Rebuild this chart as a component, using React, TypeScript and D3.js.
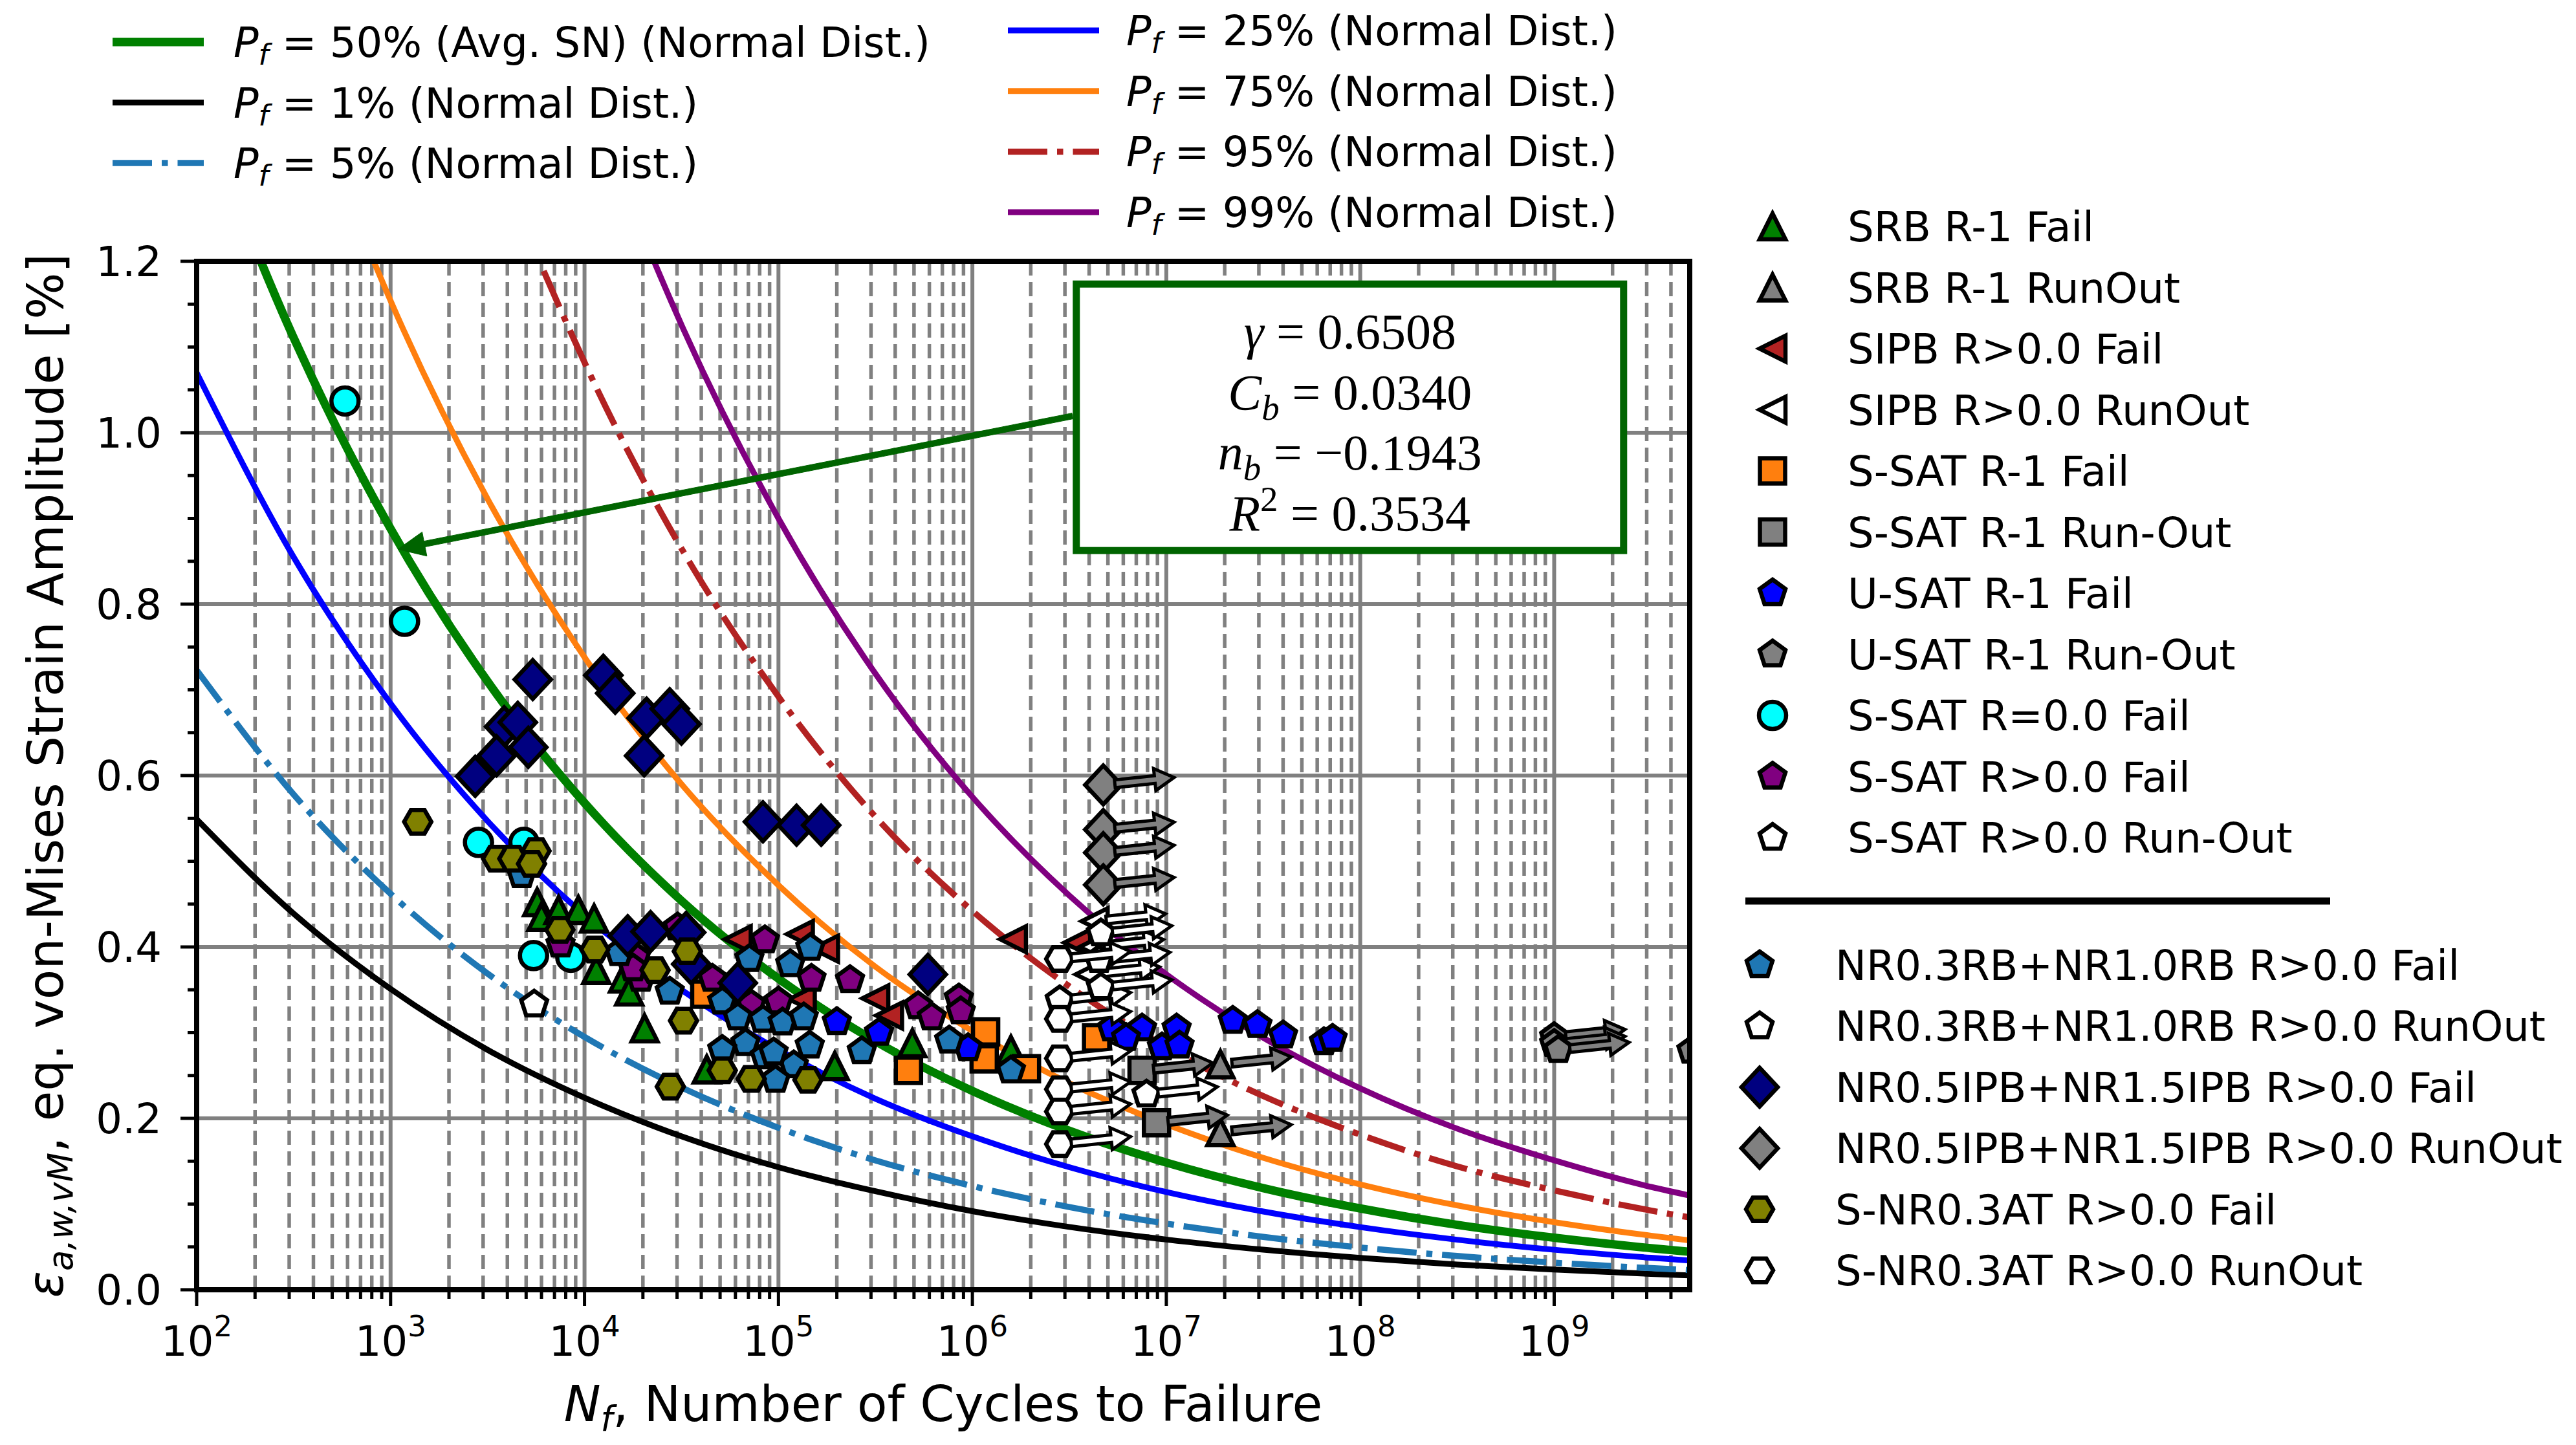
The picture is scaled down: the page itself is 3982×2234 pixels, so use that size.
import * as d3 from 'd3';
import React from 'react';

type Pt = [number, number, boolean?];
type Shape = 'triUp' | 'triLeft' | 'square' | 'pentagon' | 'hexagon' | 'circle' | 'diamond';

const curveN = [1e2, 3.16e2, 1e3, 3.16e3, 1e4, 3.16e4, 1e5, 3.16e5, 1e6, 3.16e6, 1e7, 3.16e7, 1e8, 3.16e8, 1e9, 3.16e9, 5e9];
const pf50 = [1.39, 1.111, 0.888, 0.71, 0.568, 0.454, 0.363, 0.29, 0.232, 0.1856, 0.1484, 0.1186, 0.0949, 0.0758, 0.0607, 0.0485, 0.0443];
const pf1 = [0.549, 0.439, 0.351, 0.28, 0.224, 0.179, 0.143, 0.115, 0.0917, 0.0733, 0.0586, 0.0468, 0.0372, 0.0295, 0.0235, 0.0185, 0.0168];
const pf5 = [0.723, 0.578, 0.462, 0.369, 0.295, 0.236, 0.189, 0.151, 0.121, 0.0965, 0.0772, 0.0617, 0.0493, 0.0394, 0.0316, 0.0252, 0.023];
const pf25 = [1.07, 0.855, 0.684, 0.547, 0.437, 0.35, 0.28, 0.223, 0.179, 0.143, 0.114, 0.0913, 0.0731, 0.0584, 0.0467, 0.0373, 0.0341];
const pf75 = [1.807, 1.444, 1.154, 0.923, 0.738, 0.59, 0.472, 0.377, 0.302, 0.241, 0.193, 0.154, 0.123, 0.0985, 0.0789, 0.0631, 0.0576];
const pf95 = [2.648, 2.116, 1.692, 1.353, 1.082, 0.865, 0.692, 0.552, 0.442, 0.354, 0.283, 0.226, 0.181, 0.144, 0.116, 0.0924, 0.0844];
const pf99 = [3.447, 2.755, 2.202, 1.761, 1.409, 1.126, 0.9, 0.719, 0.575, 0.46, 0.368, 0.294, 0.235, 0.188, 0.151, 0.12, 0.11];

// test data [N, strain %, arrow?]
const srbFail: Pt[] = [[5.7e3, 0.452], [6.0e3, 0.435], [7.35e3, 0.443], [9.3e3, 0.443], [1.12e4, 0.433], [1.15e4, 0.373], [1.58e4, 0.363], [1.7e4, 0.348], [2.04e4, 0.305], [4.27e4, 0.257], [1.95e5, 0.261], [4.9e5, 0.2875], [1.58e6, 0.28]];
const srbRunOut: Pt[] = [[1.9e7, 0.263], [1.9e7, 0.184]];
const sipbFail: Pt[] = [[6.17e4, 0.409], [1.29e5, 0.415], [1.74e5, 0.398], [1.32e5, 0.339], [3.16e5, 0.34], [3.72e5, 0.32], [1.62e6, 0.409], [3.47e6, 0.405]];
const sipbRunOut: Pt[] = [[4.27e6, 0.43], [4.17e6, 0.4], [3.98e6, 0.368]];
const ssatR1Fail: Pt[] = [[4.17e4, 0.345], [4.68e5, 0.256], [1.17e6, 0.301], [1.15e6, 0.2695], [1.9e6, 0.258], [4.37e6, 0.294]];
const ssatR1RunOut: Pt[] = [[7.5e6, 0.256], [8.9e6, 0.195]];
const usatFail: Pt[] = [[2.0e5, 0.3125], [3.3e5, 0.3], [9.5e5, 0.282], [5.25e6, 0.305], [7.5e6, 0.305], [1.13e7, 0.305], [6.2e6, 0.294], [9.5e6, 0.283], [1.17e7, 0.285], [2.2e7, 0.314], [2.95e7, 0.309], [4.0e7, 0.297], [6.5e7, 0.289], [7.2e7, 0.293]];
const usatRunOut: Pt[] = [[1.0e9, 0.295], [1.0e9, 0.287], [1.05e9, 0.28], [5.1e9, 0.279]];
const ssatR0Fail: Pt[] = [[5.82e2, 1.037], [1.18e3, 0.78], [2.84e3, 0.522], [4.87e3, 0.522], [5.46e3, 0.39], [8.5e3, 0.388]];
const ssatRpFail: Pt[] = [[7.52e3, 0.403], [1.84e4, 0.388], [1.95e4, 0.363], [1.78e4, 0.375], [4.57e4, 0.363], [8.51e4, 0.408], [1.48e5, 0.363], [1.0e5, 0.3365], [7.24e4, 0.333], [3.02e4, 0.423], [2.34e5, 0.3615], [8.51e5, 0.34], [5.25e5, 0.331], [6.17e5, 0.318], [8.71e5, 0.325]];
const ssatRpRunOut: Pt[] = [[5.5e3, 0.333, false], [2.82e6, 0.338], [7.9e6, 0.228]];
const nr03Fail: Pt[] = [[4.74e3, 0.484], [1.51e4, 0.393], [2.75e4, 0.348], [7.08e4, 0.386], [1.15e5, 0.38], [1.46e5, 0.399], [5.13e4, 0.3365], [6.17e4, 0.318], [8.32e4, 0.315], [1.05e5, 0.312], [1.35e5, 0.318], [6.76e4, 0.288], [8.51e4, 0.2725], [1.45e5, 0.285], [1.2e5, 0.262], [9.66e4, 0.245], [2.69e5, 0.2785], [7.59e5, 0.291], [1.58e6, 0.256], [5.13e4, 0.28], [9.44e4, 0.277]];
const nr03RunOut: Pt[] = [[4.6e6, 0.416], [4.6e6, 0.353], [4.5e6, 0.385]];
const nr05Fail: Pt[] = [[5.41e3, 0.712], [1.25e4, 0.717], [1.44e4, 0.696], [3.85e3, 0.657], [4.53e3, 0.662], [3.52e3, 0.623], [5.13e3, 0.633], [2.73e3, 0.599], [2.09e4, 0.667], [2.75e4, 0.678], [3.16e4, 0.66], [2.03e4, 0.623], [8.32e4, 0.546], [1.24e5, 0.542], [1.66e5, 0.542], [1.67e4, 0.413], [2.19e4, 0.418], [3.34e4, 0.417], [3.55e4, 0.38], [6.17e4, 0.358], [5.89e5, 0.368]];
const nr05RunOut: Pt[] = [[4.73e6, 0.589], [4.73e6, 0.537], [4.73e6, 0.51], [4.73e6, 0.4725]];
const snrFail: Pt[] = [[1.38e3, 0.546], [3.52e3, 0.503], [4.27e3, 0.503], [5.62e3, 0.512], [5.33e3, 0.497], [7.46e3, 0.42], [1.13e4, 0.397], [3.39e4, 0.395], [2.31e4, 0.373], [3.24e4, 0.314], [5.13e4, 0.256], [7.24e4, 0.246], [1.42e5, 0.245], [2.77e4, 0.237]];
const snrRunOut: Pt[] = [[2.82e6, 0.386], [2.82e6, 0.316], [2.82e6, 0.27], [2.82e6, 0.234], [2.82e6, 0.208], [2.82e6, 0.17]];

const xTickExps = [2, 3, 4, 5, 6, 7, 8, 9];
const yTicks = [0, 0.2, 0.4, 0.6, 0.8, 1.0, 1.2];

const fitLines = ['γ', 'C', 'n', 'R'];
const fitValues = ['0.6508', '0.0340', '−0.1943', '0.3534'];
const fitArrowTip: [number, number] = [1090, 0.864];
const fitBoxCenter: [number, number] = [8.85e7, 1.018];

const FONT = '"DejaVu Sans", sans-serif';
const GRID = '#808080';
const DARKGREEN = '#006400';

const curves = [
  { label: '50% (Avg. SN) (Normal Dist.)', values: pf50, color: '#008000', width: 13, dash: undefined, col: 0 },
  { label: '1% (Normal Dist.)', values: pf1, color: '#000000', width: 9, dash: undefined, col: 0 },
  { label: '5% (Normal Dist.)', values: pf5, color: '#1f77b4', width: 9.5, dash: '61,15,9.5,15', col: 0 },
  { label: '25% (Normal Dist.)', values: pf25, color: '#0000ff', width: 9, dash: undefined, col: 1 },
  { label: '75% (Normal Dist.)', values: pf75, color: '#ff7f0e', width: 9, dash: undefined, col: 1 },
  { label: '95% (Normal Dist.)', values: pf95, color: '#b22222', width: 9.5, dash: '61,15,9.5,15', col: 1 },
  { label: '99% (Normal Dist.)', values: pf99, color: '#800080', width: 9, dash: undefined, col: 1 },
];

const series: { label: string; data: Pt[]; shape: Shape; fill: string; runOut: boolean; group: number }[] = [
  { label: 'SRB R-1 Fail', data: srbFail, shape: 'triUp', fill: '#008000', runOut: false, group: 0 },
  { label: 'SRB R-1 RunOut', data: srbRunOut, shape: 'triUp', fill: '#808080', runOut: true, group: 0 },
  { label: 'SIPB R>0.0 Fail', data: sipbFail, shape: 'triLeft', fill: '#b22222', runOut: false, group: 0 },
  { label: 'SIPB R>0.0 RunOut', data: sipbRunOut, shape: 'triLeft', fill: '#ffffff', runOut: true, group: 0 },
  { label: 'S-SAT R-1 Fail', data: ssatR1Fail, shape: 'square', fill: '#ff7f0e', runOut: false, group: 0 },
  { label: 'S-SAT R-1 Run-Out', data: ssatR1RunOut, shape: 'square', fill: '#808080', runOut: true, group: 0 },
  { label: 'U-SAT R-1 Fail', data: usatFail, shape: 'pentagon', fill: '#0000ff', runOut: false, group: 0 },
  { label: 'U-SAT R-1 Run-Out', data: usatRunOut, shape: 'pentagon', fill: '#808080', runOut: true, group: 0 },
  { label: 'S-SAT R=0.0 Fail', data: ssatR0Fail, shape: 'circle', fill: '#00ffff', runOut: false, group: 0 },
  { label: 'S-SAT R>0.0 Fail', data: ssatRpFail, shape: 'pentagon', fill: '#800080', runOut: false, group: 0 },
  { label: 'S-SAT R>0.0 Run-Out', data: ssatRpRunOut, shape: 'pentagon', fill: '#ffffff', runOut: true, group: 0 },
  { label: 'NR0.3RB+NR1.0RB R>0.0 Fail', data: nr03Fail, shape: 'pentagon', fill: '#1f77b4', runOut: false, group: 1 },
  { label: 'NR0.3RB+NR1.0RB R>0.0 RunOut', data: nr03RunOut, shape: 'pentagon', fill: '#ffffff', runOut: true, group: 1 },
  { label: 'NR0.5IPB+NR1.5IPB R>0.0 Fail', data: nr05Fail, shape: 'diamond', fill: '#000080', runOut: false, group: 1 },
  { label: 'NR0.5IPB+NR1.5IPB R>0.0 RunOut', data: nr05RunOut, shape: 'diamond', fill: '#808080', runOut: true, group: 1 },
  { label: 'S-NR0.3AT R>0.0 Fail', data: snrFail, shape: 'hexagon', fill: '#808000', runOut: false, group: 1 },
  { label: 'S-NR0.3AT R>0.0 RunOut', data: snrRunOut, shape: 'hexagon', fill: '#ffffff', runOut: true, group: 1 },
];

const poly = (n: number, r: number, rot: number) =>
  'M' + d3.range(n).map((i) => {
    const a = rot + (i * 2 * Math.PI) / n;
    return `${(r * Math.cos(a)).toFixed(2)},${(r * Math.sin(a)).toFixed(2)}`;
  }).join('L') + 'Z';

const markerPath = (shape: Shape): string => {
  switch (shape) {
    case 'triUp':
      return 'M0,-20L20,20L-20,20Z';
    case 'triLeft':
      return 'M-20,0L20,-20L20,20Z';
    case 'square':
      return 'M-19.5,-19.5H19.5V19.5H-19.5Z';
    case 'pentagon':
      return poly(5, 21, -Math.PI / 2);
    case 'hexagon':
      return poly(6, 21, 0);
    case 'circle':
      return 'M21,0A21,21 0 1,1 -21,0A21,21 0 1,1 21,0Z';
    case 'diamond':
      return 'M0,-30L28,0L0,30L-28,0Z';
  }
};

const runArrow = 'M18,-6L80,-6L80,-17L110,0L80,17L80,6L18,6Z';

const App: React.FC = () => {
  const x = d3.scaleLog().domain([1e2, 5e9]).range([304, 2612]);
  const y = d3.scaleLinear().domain([0, 1.2]).range([1994, 404]);
  const [x0, x1] = x.range();
  const [y0, y1] = [y(1.2), y(0)];

  const line = d3
    .line<number>()
    .x((_, i) => x(curveN[i]))
    .y((v) => y(v))
    .curve(d3.curveMonotoneX);

  const minorX: number[] = [];
  for (let e = 2; e <= 9; e++) {
    for (let k = 2; k <= 9; k++) {
      const n = k * Math.pow(10, e);
      if (n < 5e9) minorX.push(n);
    }
  }
  const minorY = d3.range(0, 1.2001, 0.05).filter((v) => Math.abs(v / 0.2 - Math.round(v / 0.2)) > 1e-6);

  // annotation geometry
  const boxW = 846;
  const boxH = 412;
  const bcx = x(fitBoxCenter[0]);
  const bcy = y(fitBoxCenter[1]);
  const sx = bcx - boxW / 2 - 6;
  const sy = bcy - 2;
  const tx = x(fitArrowTip[0]);
  const ty = y(fitArrowTip[1]);
  const len = Math.hypot(tx - sx, ty - sy);
  const ux = (tx - sx) / len;
  const uy = (ty - sy) / len;
  const nx = -uy;
  const ny = ux;
  const hl = 42;
  const bx = tx - ux * hl;
  const by = ty - uy * hl;
  const pts: [number, number][] = [
    [sx + nx * 4.5, sy + ny * 4.5],
    [bx + nx * 4.5, by + ny * 4.5],
    [bx + nx * 19, by + ny * 19],
    [tx, ty],
    [bx - nx * 19, by - ny * 19],
    [bx - nx * 4.5, by - ny * 4.5],
    [sx - nx * 4.5, sy - ny * 4.5],
  ];

  const legendRows = [0, 0];

  return (
    <svg width={3982} height={2234} style={{ position: 'absolute', left: 0, top: 0, background: '#fff' }} fontFamily={FONT}>
      <defs>
        <clipPath id="plotClip">
          <rect x={x0} y={y0} width={x1 - x0} height={y1 - y0} />
        </clipPath>
      </defs>
      <rect width={3982} height={2234} fill="#fff" />

      {/* grid */}
      <g stroke={GRID}>
        {minorX.map((n) => (
          <line key={`mx${n}`} x1={x(n)} x2={x(n)} y1={y0} y2={y1} strokeWidth={5.5} strokeDasharray="22,10" />
        ))}
        {xTickExps.slice(1).map((e) => (
          <line key={`gx${e}`} x1={x(Math.pow(10, e))} x2={x(Math.pow(10, e))} y1={y0} y2={y1} strokeWidth={6} />
        ))}
        {yTicks.slice(1, -1).map((v) => (
          <line key={`gy${v}`} x1={x0} x2={x1} y1={y(v)} y2={y(v)} strokeWidth={6} />
        ))}
      </g>

      {/* probability curves */}
      <g clipPath="url(#plotClip)" fill="none">
        {curves.map((c) => (
          <path key={c.label} d={line(c.values) || ''} stroke={c.color} strokeWidth={c.width} strokeDasharray={c.dash} />
        ))}
      </g>

      {/* data */}
      <g clipPath="url(#plotClip)">
        {series.map((s) => (
          <g key={s.label}>
            {s.data.map((d, i) => (
              <g key={i} transform={`translate(${x(d[0])},${y(d[1])})`}>
                <path d={markerPath(s.shape)} fill={s.fill} stroke="#000" strokeWidth={6.5} strokeLinejoin="miter" />
                {s.runOut && d[2] !== false && (
                  <path d={runArrow} transform="rotate(-6)" fill={s.fill} stroke="#000" strokeWidth={5} strokeLinejoin="miter" />
                )}
              </g>
            ))}
          </g>
        ))}
      </g>

      {/* fit annotation */}
      <path d={'M' + pts.map((p) => p.join(',')).join('L') + 'Z'} fill={DARKGREEN} stroke={DARKGREEN} strokeWidth={1} />
      <rect x={bcx - boxW / 2} y={bcy - boxH / 2} width={boxW} height={boxH} fill="#fff" stroke={DARKGREEN} strokeWidth={11} />
      <g fontFamily='"Liberation Serif", "Times New Roman", serif' fontSize={78} textAnchor="middle">
        {fitLines.map((sym, i) => {
          const yy = bcy - boxH / 2 + 100 + i * 93.5;
          return (
            <text key={sym} x={bcx} y={yy}>
              <tspan fontStyle="italic">{sym}</tspan>
              {(sym === 'C' || sym === 'n') && (
                <tspan fontStyle="italic" fontSize={55} dy={16}>b</tspan>
              )}
              {sym === 'R' && (
                <tspan fontSize={55} dy={-30}>2</tspan>
              )}
              <tspan dy={sym === 'R' ? 30 : sym === 'γ' ? 0 : -16}>{` = ${fitValues[i]}`}</tspan>
            </text>
          );
        })}
      </g>

      {/* axes box */}
      <rect x={x0} y={y0} width={x1 - x0} height={y1 - y0} fill="none" stroke="#000" strokeWidth={8} />

      {/* ticks */}
      <g stroke="#000" strokeWidth={5}>
        {minorX.map((n) => (
          <line key={`tmx${n}`} x1={x(n)} x2={x(n)} y1={y1} y2={y1 + 14} />
        ))}
        {xTickExps.map((e) => (
          <line key={`tx${e}`} x1={x(Math.pow(10, e))} x2={x(Math.pow(10, e))} y1={y1} y2={y1 + 25} />
        ))}
        {minorY.map((v) => (
          <line key={`tmy${v}`} x1={x0} x2={x0 - 14} y1={y(v)} y2={y(v)} />
        ))}
        {yTicks.map((v) => (
          <line key={`ty${v}`} x1={x0} x2={x0 - 25} y1={y(v)} y2={y(v)} />
        ))}
      </g>
      <g fontSize={64} fill="#000">
        {xTickExps.map((e) => (
          <text key={`lx${e}`} x={x(Math.pow(10, e))} y={2096} textAnchor="middle">
            10<tspan fontSize={45} dy={-30}>{e}</tspan>
          </text>
        ))}
        {yTicks.map((v) => (
          <text key={`ly${v}`} x={250} y={y(v) + 23} textAnchor="end">
            {v.toFixed(1)}
          </text>
        ))}
      </g>

      {/* axis labels */}
      <text x={(x0 + x1) / 2} y={2197} fontSize={76} textAnchor="middle">
        <tspan fontStyle="italic">N</tspan>
        <tspan fontStyle="italic" fontSize={53} dy={15}>f</tspan>
        <tspan dy={-15}>, Number of Cycles to Failure</tspan>
      </text>
      <text transform={`translate(97,${(y0 + y1) / 2}) rotate(-90)`} fontSize={76} textAnchor="middle">
        <tspan fontStyle="italic">ε</tspan>
        <tspan fontStyle="italic" fontSize={53} dy={15}>a,w,vM</tspan>
        <tspan dy={-15}>, eq. von-Mises Strain Amplitude [%]</tspan>
      </text>

      {/* curve legend */}
      <g fontSize={64}>
        {curves.map((c) => {
          const col = c.col;
          const row = legendRows[col]++;
          const cy = col === 0 ? 65 + row * 93.5 : 47 + row * 93.7;
          const lx = col === 0 ? 174 : 1558;
          const tx2 = col === 0 ? 361 : 1741;
          return (
            <g key={`lg${c.label}`}>
              <line x1={lx} x2={lx + 141} y1={cy} y2={cy} stroke={c.color} strokeWidth={c.width} strokeDasharray={c.dash} />
              <text x={tx2} y={cy + 23}>
                <tspan fontStyle="italic">P</tspan>
                <tspan fontStyle="italic" fontSize={45} dy={12}>f</tspan>
                <tspan dy={-12}>{` = ${c.label}`}</tspan>
              </text>
            </g>
          );
        })}
      </g>

      {/* marker legend */}
      <g fontSize={64}>
        {series.map((s) => {
          const idx = series.filter((t) => t.group === s.group).indexOf(s);
          const cy = s.group === 0 ? 350 + idx * 94.5 : 1492 + idx * 94.4;
          const mx = s.group === 0 ? 2740 : 2720;
          const txl = s.group === 0 ? 2856 : 2837;
          return (
            <g key={`ls${s.label}`}>
              <path d={markerPath(s.shape)} transform={`translate(${mx},${cy})`} fill={s.fill} stroke="#000" strokeWidth={6.5} />
              <text x={txl} y={cy + 23}>{s.label}</text>
            </g>
          );
        })}
        <line x1={2698} x2={3602} y1={1393} y2={1393} stroke="#000" strokeWidth={11} />
      </g>
    </svg>
  );
};

export default App;
